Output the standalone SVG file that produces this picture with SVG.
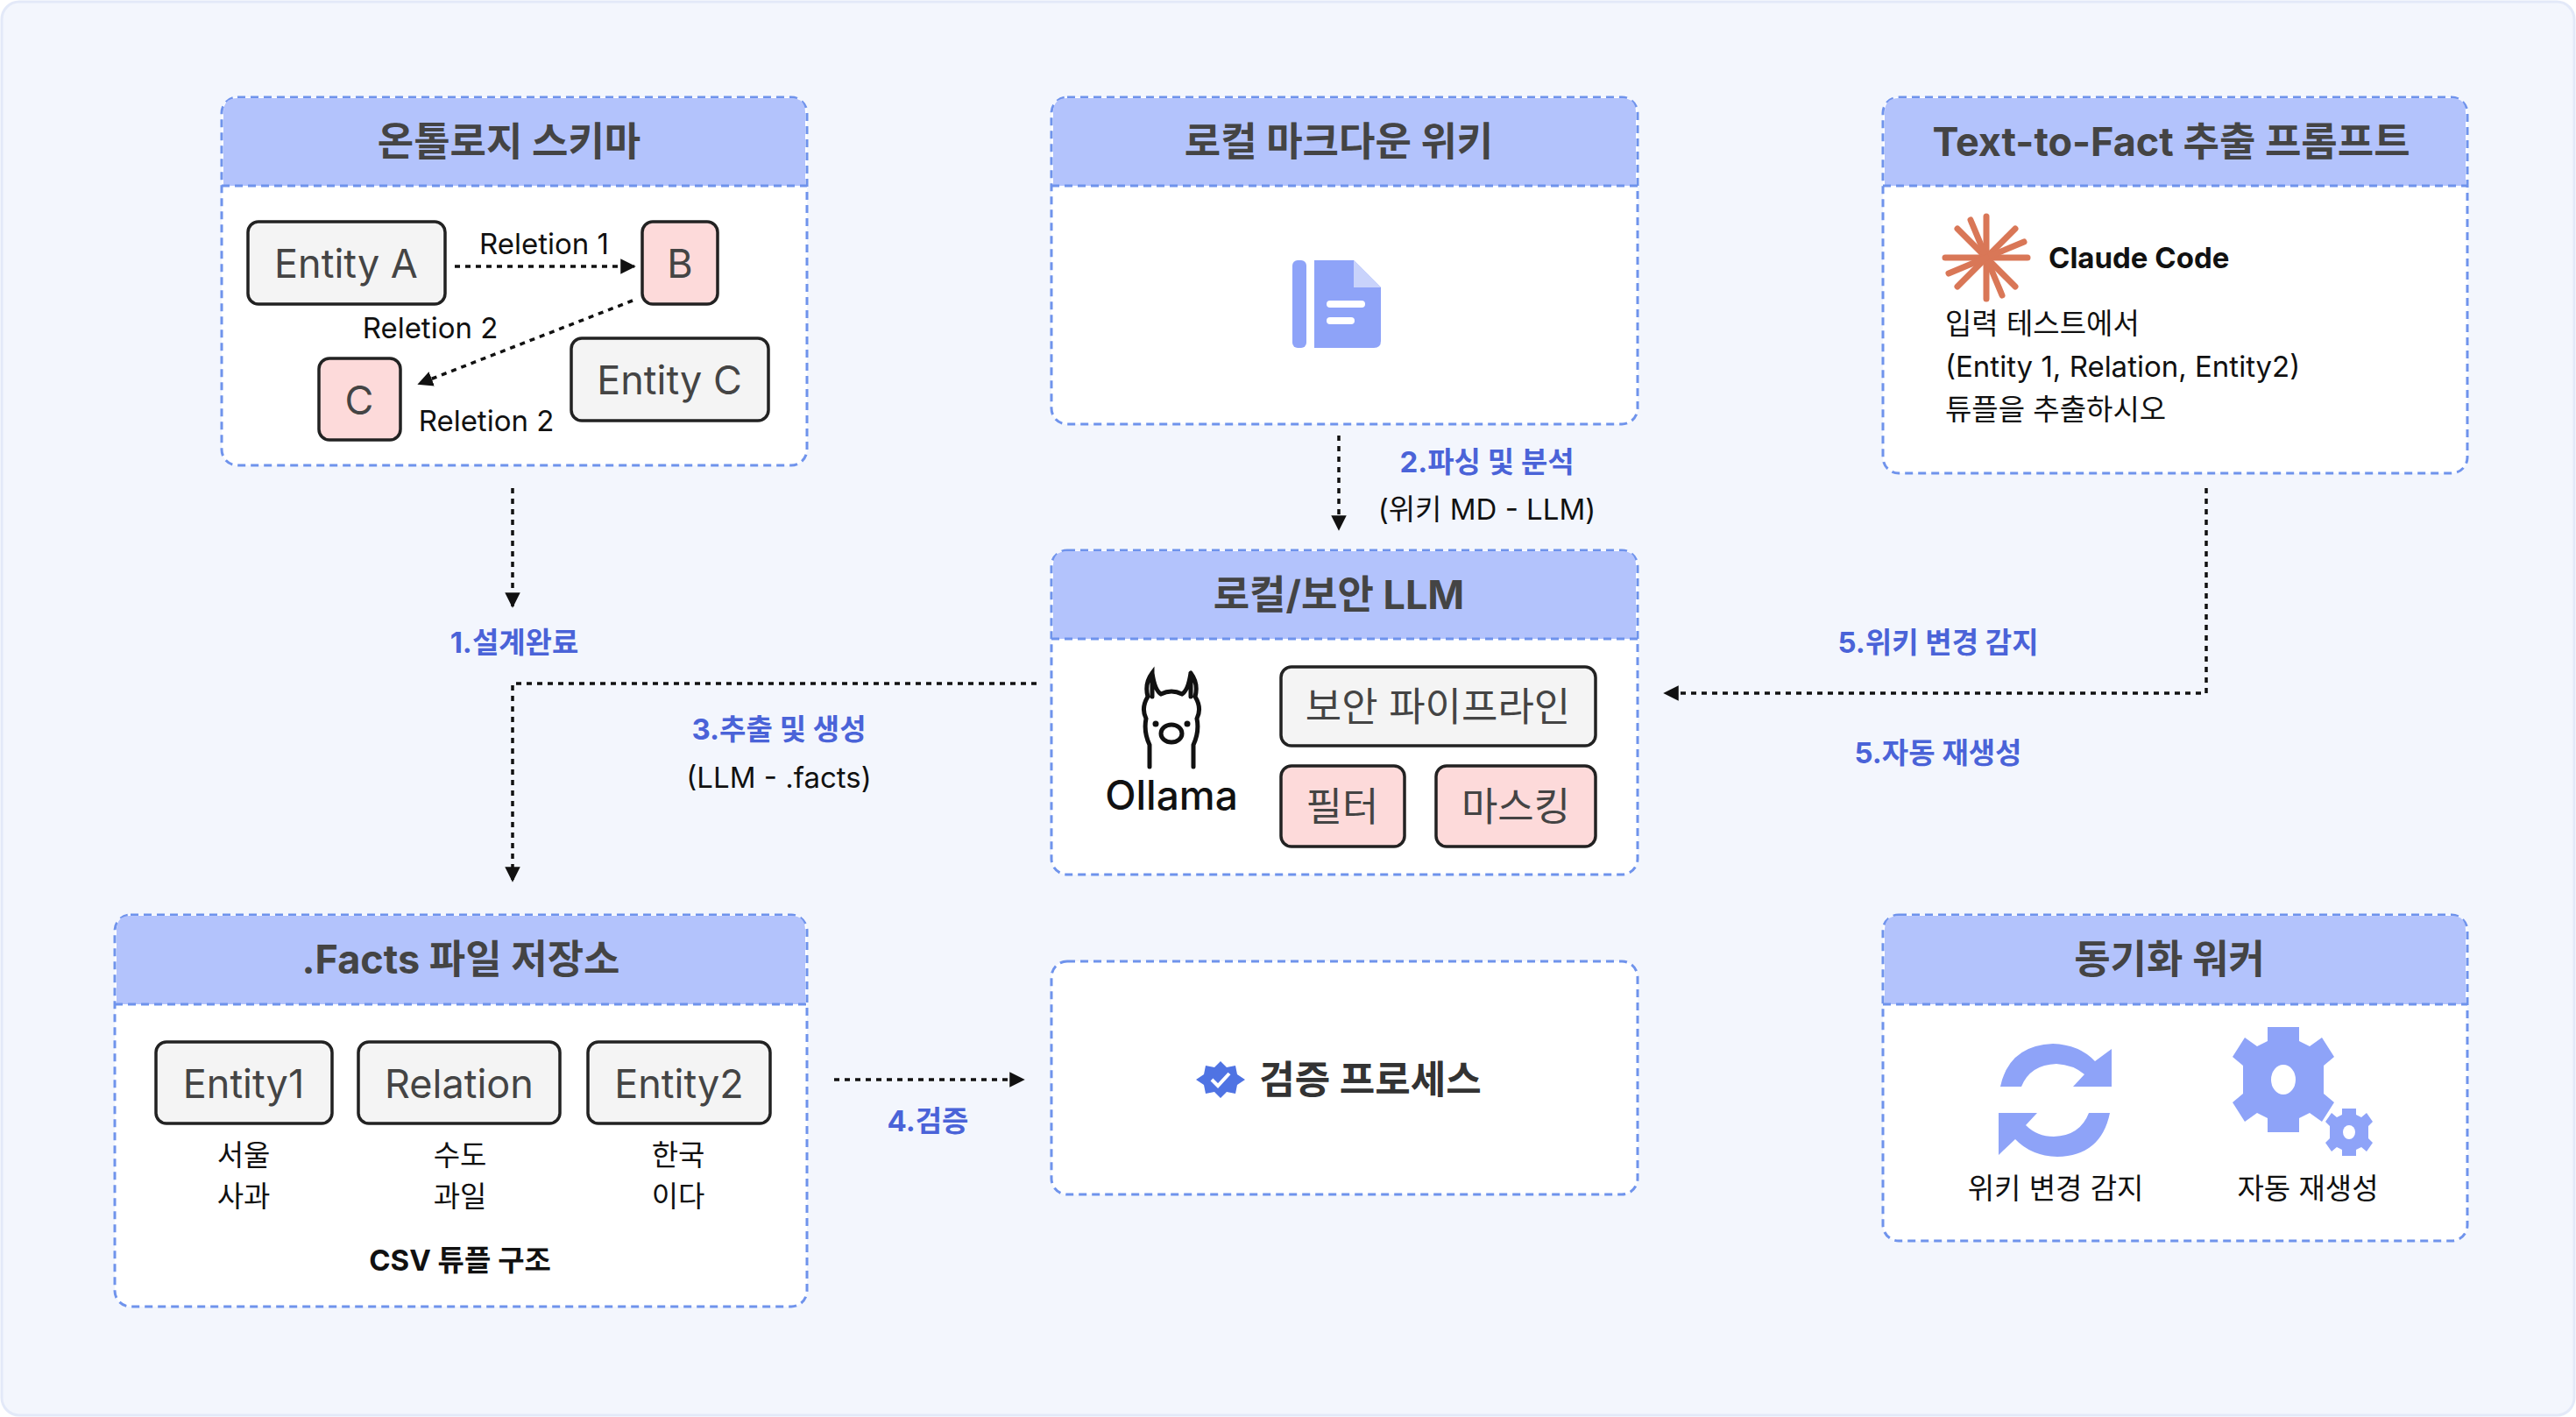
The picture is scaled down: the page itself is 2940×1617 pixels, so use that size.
<svg xmlns="http://www.w3.org/2000/svg" width="2940" height="1617" viewBox="0 0 2940 1617">
<style>
.card{fill:#fff;stroke:#6f93ec;stroke-width:3;stroke-dasharray:9 6}
.hd{fill:#b3c3fc}
.hl{stroke:#6f93ec;stroke-width:3;stroke-dasharray:9 6}
.ttl{font-family:Inter,"Noto Sans CJK KR",sans-serif;font-weight:700;font-size:45px;fill:#444;text-anchor:middle}
.gb{fill:#f4f4f4;stroke:#222;stroke-width:3.5}
.pb{fill:#fddada;stroke:#222;stroke-width:3.5}
.bt{font-family:Inter,"Noto Sans CJK KR",sans-serif;font-size:45px;fill:#444;text-anchor:middle;dominant-baseline:central}
.t{font-family:Inter,"Noto Sans CJK KR",sans-serif;font-size:33px;fill:#111;text-anchor:middle;dominant-baseline:central}
.tl{font-family:Inter,"Noto Sans CJK KR",sans-serif;font-size:33px;fill:#111;dominant-baseline:central}
.bl{font-family:Inter,"Noto Sans CJK KR",sans-serif;font-size:33px;font-weight:700;fill:#4a63d8;text-anchor:middle;dominant-baseline:central}
.cn{fill:none;stroke:#111;stroke-width:3.5;stroke-dasharray:6 6}
.ic{fill:#8ea3f8}
</style>
<defs>
<marker id="ah" viewBox="0 0 10 10" refX="9" refY="5" markerWidth="5" markerHeight="5" orient="auto"><path d="M0 0L10 5L0 10z" fill="#111"/></marker>
</defs>
<rect x="2" y="2" width="2936" height="1613" rx="20" fill="#f3f6fd" stroke="#e3e9f8" stroke-width="3"/>

<g id="connectors">
<path class="cn" d="M585 557V692" marker-end="url(#ah)"/>
<path class="cn" d="M1528 497V604" marker-end="url(#ah)"/>
<path class="cn" d="M1183 780H585V1005" marker-end="url(#ah)"/>
<path class="cn" d="M2518 557V791H1900" marker-end="url(#ah)"/>
<path class="cn" d="M952 1232H1168" marker-end="url(#ah)"/>
<text class="bl" x="587" y="733">1.설계완료</text>
<text class="bl" x="1697" y="527">2.파싱 및 분석</text>
<text class="t" x="1697" y="581">(위키 MD - LLM)</text>
<text class="bl" x="889" y="832">3.추출 및 생성</text>
<text class="t" x="889" y="887">(LLM - .facts)</text>
<text class="bl" x="2212" y="733">5.위키 변경 감지</text>
<text class="bl" x="2212" y="859">5.자동 재생성</text>
<text class="bl" x="1059" y="1279">4.검증</text>
</g>

<g id="ontology">
<rect class="card" x="253" y="111" width="668" height="420" rx="18"/>
<path class="hd" d="M271 112H903Q919 112 919 128V212H255V128Q255 112 271 112Z"/>
<line class="hl" x1="253" y1="212" x2="921" y2="212"/>
<text class="ttl" x="581" y="178">온톨로지 스키마</text>
<rect class="gb" x="283" y="253" width="225" height="94" rx="12"/>
<text class="bt" x="395" y="300">Entity A</text>
<rect class="pb" x="733" y="253" width="86" height="94" rx="12"/>
<text class="bt" x="776" y="300">B</text>
<rect class="pb" x="364" y="409" width="93" height="93" rx="12"/>
<text class="bt" x="410" y="456">C</text>
<rect class="gb" x="652" y="386" width="225" height="94" rx="12"/>
<text class="bt" x="764" y="433">Entity C</text>
<path class="cn" d="M519 304H724" marker-end="url(#ah)"/>
<path class="cn" d="M722 343L478 438" marker-end="url(#ah)"/>
<text class="t" x="621" y="278">Reletion 1</text>
<text class="t" x="491" y="374">Reletion 2</text>
<text class="t" x="555" y="480">Reletion 2</text>
</g>

<g id="wiki">
<rect class="card" x="1200" y="111" width="669" height="373" rx="18"/>
<path class="hd" d="M1218 112H1851Q1867 112 1867 128V212H1202V128Q1202 112 1218 112Z"/>
<line class="hl" x1="1200" y1="212" x2="1869" y2="212"/>
<text class="ttl" x="1528" y="178">로컬 마크다운 위키</text>
<rect class="ic" x="1475" y="297" width="16" height="100" rx="6"/>
<path class="ic" d="M1500 297H1545L1576 328V389Q1576 397 1568 397H1500Z"/>
<path d="M1545 297V328H1576" fill="#c9d3fb"/>
<rect x="1514" y="343" width="44" height="8" rx="4" fill="#fff"/>
<rect x="1514" y="362" width="32" height="8" rx="4" fill="#fff"/>
</g>

<g id="prompt">
<rect class="card" x="2149" y="111" width="667" height="429" rx="18"/>
<path class="hd" d="M2167 112H2798Q2814 112 2814 128V212H2151V128Q2151 112 2167 112Z"/>
<line class="hl" x1="2149" y1="212" x2="2816" y2="212"/>
<text class="ttl" x="2478" y="178">Text-to-Fact 추출 프롬프트</text>
<g stroke="#d97757" stroke-width="7" stroke-linecap="round">
<line x1="2267" y1="294" x2="2267" y2="247"/><line x1="2267" y1="294" x2="2267" y2="341"/>
<line x1="2267" y1="294" x2="2220" y2="294"/><line x1="2267" y1="294" x2="2314" y2="294"/>
<line x1="2267" y1="294" x2="2234" y2="261"/><line x1="2267" y1="294" x2="2300" y2="327"/>
<line x1="2267" y1="294" x2="2300" y2="261"/><line x1="2267" y1="294" x2="2234" y2="327"/>
<line x1="2267" y1="294" x2="2249" y2="251"/><line x1="2267" y1="294" x2="2285" y2="337"/>
<line x1="2267" y1="294" x2="2310" y2="276"/><line x1="2267" y1="294" x2="2224" y2="312"/>
</g>
<text class="tl" x="2338" y="294" font-weight="700">Claude Code</text>
<text class="tl" x="2220" y="369">입력 테스트에서</text>
<text class="tl" x="2220" y="418">(Entity 1, Relation, Entity2)</text>
<text class="tl" x="2220" y="467">튜플을 추출하시오</text>
</g>

<g id="llm">
<rect class="card" x="1200" y="628" width="669" height="370" rx="18"/>
<path class="hd" d="M1218 629H1851Q1867 629 1867 645V729H1202V645Q1202 629 1218 629Z"/>
<line class="hl" x1="1200" y1="729" x2="1869" y2="729"/>
<text class="ttl" x="1528" y="695">로컬/보안 LLM</text>
<g fill="none" stroke="#111" stroke-width="5" stroke-linecap="round">
<path d="M1312 875V850Q1305 835 1308 820Q1302 808 1310 795Q1306 780 1315 768V795M1315 768Q1318 788 1325 792Q1337 786 1349 792Q1356 788 1359 768V795M1359 768Q1368 780 1364 795Q1372 808 1366 820Q1369 835 1362 850V875"/>
<ellipse cx="1337" cy="837" rx="12" ry="10"/>
</g>
<circle cx="1319" cy="826" r="3.5" fill="#111"/><circle cx="1355" cy="826" r="3.5" fill="#111"/>
<text x="1337" y="907" font-family="Inter,sans-serif" font-size="46" font-weight="500" fill="#111" text-anchor="middle" dominant-baseline="central">Ollama</text>
<rect class="gb" x="1462" y="761" width="359" height="90" rx="12"/>
<text class="bt" x="1641" y="806">보안 파이프라인</text>
<rect class="pb" x="1462" y="874" width="141" height="92" rx="12"/>
<text class="bt" x="1532" y="920">필터</text>
<rect class="pb" x="1639" y="874" width="182" height="92" rx="12"/>
<text class="bt" x="1730" y="920">마스킹</text>
</g>

<g id="facts">
<rect class="card" x="131" y="1044" width="790" height="447" rx="18"/>
<path class="hd" d="M149 1045H903Q919 1045 919 1061V1146H133V1061Q133 1045 149 1045Z"/>
<line class="hl" x1="131" y1="1146" x2="921" y2="1146"/>
<text class="ttl" x="526" y="1111">.Facts 파일 저장소</text>
<rect class="gb" x="178" y="1189" width="201" height="93" rx="12"/>
<text class="bt" x="278" y="1236">Entity1</text>
<rect class="gb" x="409" y="1189" width="230" height="93" rx="12"/>
<text class="bt" x="524" y="1236">Relation</text>
<rect class="gb" x="671" y="1189" width="208" height="93" rx="12"/>
<text class="bt" x="775" y="1236">Entity2</text>
<text class="t" x="278" y="1318">서울</text><text class="t" x="278" y="1365">사과</text>
<text class="t" x="525" y="1318">수도</text><text class="t" x="525" y="1365">과일</text>
<text class="t" x="774" y="1318">한국</text><text class="t" x="774" y="1365">이다</text>
<text class="t" x="525" y="1438" font-weight="700">CSV 튜플 구조</text>
</g>

<g id="verify">
<rect class="card" x="1200" y="1097" width="669" height="266" rx="18"/>
<path d="M1393 1211L1400 1218L1410 1216L1412 1226L1421 1232L1412 1238L1410 1248L1400 1246L1393 1253L1386 1246L1376 1248L1374 1238L1365 1232L1374 1226L1376 1216L1386 1218Z" fill="#4f73e3"/>
<path d="M1383 1232L1390 1239L1403 1225" fill="none" stroke="#fff" stroke-width="4"/>
<text x="1564" y="1232" font-family="Inter,'Noto Sans CJK KR',sans-serif" font-size="44" font-weight="700" fill="#333" text-anchor="middle" dominant-baseline="central">검증 프로세스</text>
</g>

<g id="sync">
<rect class="card" x="2149" y="1044" width="667" height="372" rx="18"/>
<path class="hd" d="M2167 1045H2798Q2814 1045 2814 1061V1146H2151V1061Q2151 1045 2167 1045Z"/>
<line class="hl" x1="2149" y1="1146" x2="2816" y2="1146"/>
<text class="ttl" x="2476" y="1111">동기화 워커</text>
<path class="ic" d="M2283 1240Q2293 1193 2343 1191Q2373 1192 2391 1211L2410 1197V1240H2366L2379 1226Q2366 1215 2347 1214Q2317 1215 2307 1240Z"/>
<path class="ic" d="M2408 1270Q2398 1319 2348 1320Q2318 1319 2300 1300L2281 1318V1270H2325L2312 1284Q2325 1297 2344 1297Q2374 1296 2384 1270Z"/>
<g transform="translate(2606,1232)">
<path class="ic" d="M-18 -60H18V-44L30 -38L44 -48L58 -26L46 -16V16L58 26L44 48L30 38L18 44V60H-18V44L-30 38L-44 48L-58 26L-46 16V-16L-58 -26L-44 -48L-30 -38L-18 -44Z"/>
<ellipse cx="0" cy="0" rx="14" ry="17" fill="#fff"/>
</g>
<g transform="translate(2681,1292)">
<path class="ic" d="M-8 -27H8V-20L14 -17L20 -22L27 -12L22 -7V7L27 12L20 22L14 17L8 20V27H-8V20L-14 17L-20 22L-27 12L-22 7V-7L-27 -12L-20 -22L-14 -17L-8 -20Z"/>
<ellipse cx="0" cy="0" rx="7" ry="8" fill="#fff"/>
</g>
<text class="t" x="2346" y="1356">위키 변경 감지</text>
<text class="t" x="2634" y="1356">자동 재생성</text>
</g>
</svg>
